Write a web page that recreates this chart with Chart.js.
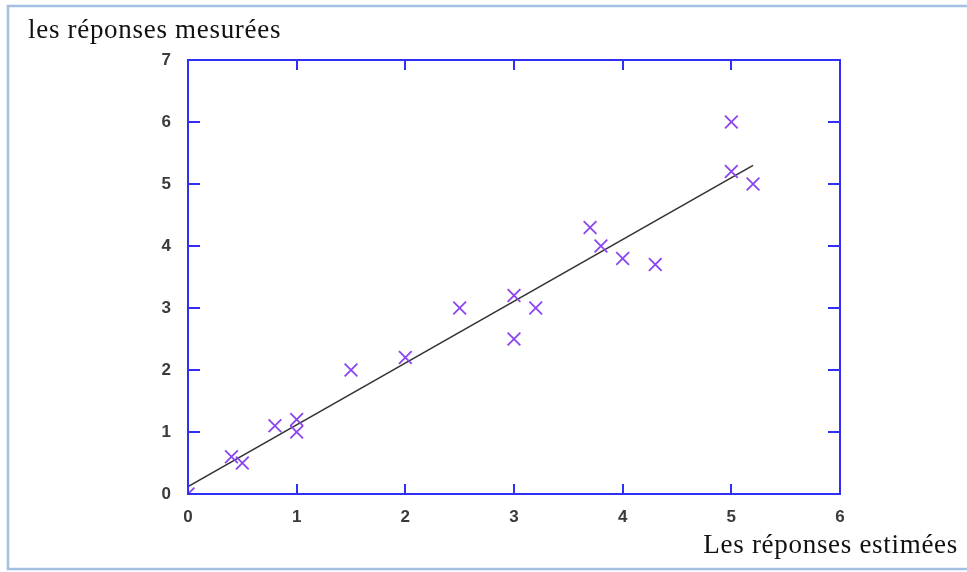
<!DOCTYPE html>
<html>
<head>
<meta charset="utf-8">
<script src="https://cdn.jsdelivr.net/npm/chart.js@4/dist/chart.umd.min.js"></script>
<style>
  html, body { margin: 0; padding: 0; background: #fff; }
  #wrap { width: 967px; height: 572px; position: relative; }
</style>
</head>
<body>
<div id="wrap"><canvas id="scatter-chart" width="967" height="572"></canvas></div>
<script>
// ------------------ data -------------------//
const estimated = [0, 0.4, 0.5, 0.8, 1, 1, 1.5, 2, 2.5, 3, 3, 3.2, 3.7, 3.8, 4, 4.3, 5, 5, 5.2];
const measured  = [0, 0.6, 0.5, 1.1, 1.2, 1.0, 2.0, 2.2, 3.0, 3.2, 2.5, 3.0, 4.3, 4.0, 3.8, 3.7, 6.0, 5.2, 5.0];
const fitX = [0, 5.2];
const fitY = [0.12, 5.3];
const xTicks = [0, 1, 2, 3, 4, 5, 6];
const yTicks = [0, 1, 2, 3, 4, 5, 6, 7];

const points = estimated.map((x, i) => ({ x: x, y: measured[i] }));
const fitLine = fitX.map((x, i) => ({ x: x, y: fitY[i] }));

const AXIS_BLUE = '#2f2ff5';

// frame, inward ticks, outer border and the two axis captions
const framePlugin = {
    id: 'frame',
    beforeDraw(chart) {
        const ctx = chart.ctx;
        ctx.save();
        ctx.fillStyle = '#fff';
        ctx.fillRect(0, 0, chart.width, chart.height);
        ctx.strokeStyle = '#a3bfe2';
        ctx.lineWidth = 2.5;
        ctx.beginPath();
        ctx.moveTo(chart.width + 2, 6);
        ctx.lineTo(8, 6);
        ctx.lineTo(8, 569);
        ctx.lineTo(chart.width + 2, 569);
        ctx.stroke();
        ctx.restore();
    },
    afterDatasetsDraw(chart) {
        const ctx = chart.ctx;
        const a = chart.chartArea;
        const xs = chart.scales.x, ys = chart.scales.y;
        ctx.save();
        ctx.strokeStyle = AXIS_BLUE;
        ctx.lineWidth = 2;
        ctx.strokeRect(a.left, a.top, a.right - a.left, a.bottom - a.top);
        ctx.beginPath();
        xTicks.forEach(v => {
            const px = Math.round(xs.getPixelForValue(v));
            ctx.moveTo(px, a.bottom); ctx.lineTo(px, a.bottom - 10);
            ctx.moveTo(px, a.top); ctx.lineTo(px, a.top + 10);
        });
        yTicks.forEach(v => {
            const py = Math.round(ys.getPixelForValue(v));
            ctx.moveTo(a.left, py); ctx.lineTo(a.left + 12, py);
            ctx.moveTo(a.right, py); ctx.lineTo(a.right - 12, py);
        });
        ctx.stroke();

        ctx.fillStyle = '#111';
        ctx.font = '27px "Liberation Serif", "DejaVu Serif", serif';
        ctx.letterSpacing = '0.7px';
        ctx.textAlign = 'left';
        ctx.textBaseline = 'alphabetic';
        ctx.fillText('les réponses mesurées', 28, 38);
        ctx.textAlign = 'right';
        ctx.fillText('Les réponses estimées', 958, 553);
        ctx.restore();
    }
};

const scatterCanvas = document.getElementById('scatter-chart');
let scatterChart = new Chart(scatterCanvas, {
    type: 'scatter',
    data: {
        datasets: [{
            data: points,
            pointStyle: 'crossRot',
            pointRadius: 9,
            pointHoverRadius: 9,
            borderColor: '#8a45f0',
            borderWidth: 1.8,
            backgroundColor: '#8a45f0',
            order: 1
        }, {
            type: 'line',
            data: fitLine,
            borderColor: '#333',
            borderWidth: 1.6,
            pointRadius: 0,
            fill: false,
            order: 2
        }]
    },
    options: {
        responsive: false,
        animation: false,
        layout: {
            padding: { left: 0, top: 60, right: 127, bottom: 0 }
        },
        plugins: {
            legend: { display: false },
            tooltip: { enabled: false }
        },
        scales: {
            x: {
                type: 'linear',
                min: 0,
                max: 6,
                afterFit: scale => { scale.height = 78; },
                afterBuildTicks: scale => { scale.ticks = xTicks.map(v => ({ value: v })); },
                grid: { display: false, drawTicks: false },
                border: { display: false },
                ticks: {
                    padding: 13,
                    color: '#3a3a3a',
                    font: { family: '"Liberation Sans", Arial, sans-serif', size: 17, weight: 'bold' }
                }
            },
            y: {
                type: 'linear',
                min: 0,
                max: 7,
                afterFit: scale => { scale.width = 188; },
                afterBuildTicks: scale => { scale.ticks = yTicks.map(v => ({ value: v })); },
                grid: { display: false, drawTicks: false },
                border: { display: false },
                ticks: {
                    padding: 17,
                    color: '#3a3a3a',
                    font: { family: '"Liberation Sans", Arial, sans-serif', size: 17, weight: 'bold' }
                }
            }
        }
    },
    plugins: [framePlugin]
});
</script>
</body>
</html>
